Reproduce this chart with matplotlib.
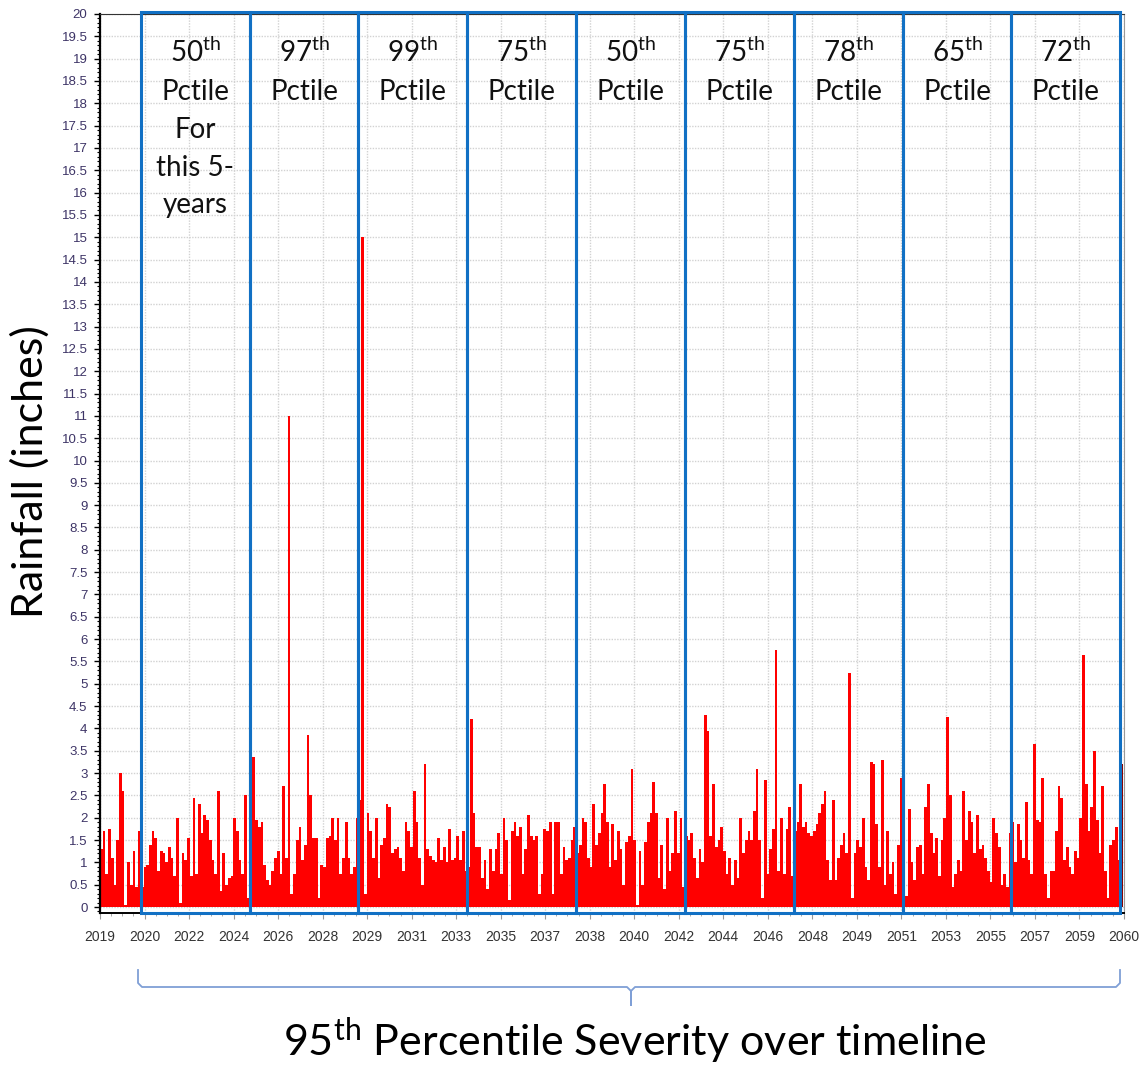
import numpy as np
import matplotlib
matplotlib.use("Agg")
import matplotlib.pyplot as plt
import matplotlib.transforms as mtransforms
from matplotlib import font_manager
from matplotlib.patches import Rectangle
from matplotlib.lines import Line2D
from matplotlib.ticker import MultipleLocator, AutoMinorLocator

# rainfall (inches), one bar per ~5 weeks
seg_2019 = [1.3, 1.7, 0.75, 1.75, 1.1, 0.5, 1.5, 3.0, 2.6, 0.05, 1.0, 0.5, 1.25, 0.45, 1.7]
period_1 = [0.45, 0.9, 0.93, 1.4, 1.7, 1.55, 0.8, 1.25, 1.2, 1.0, 1.35, 1.1, 0.7, 2.0, 0.1, 1.2, 1.05, 1.55, 0.7, 2.45,
            0.75, 2.3, 1.65, 2.05, 1.95, 1.5, 1.05, 0.75, 2.6, 0.35, 1.2, 0.5, 0.65, 0.7, 2.0, 1.7, 1.05, 0.75, 2.5, 0.2]
period_2 = [4.5, 3.35, 1.95, 1.8, 1.9, 0.93, 0.6, 0.5, 0.8, 1.1, 1.25, 0.75, 2.7, 1.1, 11.0, 0.3, 0.75, 1.5, 1.8, 1.05,
            1.4, 3.85, 2.5, 1.55, 1.55, 0.2, 0.93, 0.9, 1.55, 1.6, 2.0, 1.5, 2.0, 0.75, 1.1, 1.9, 1.1, 0.75, 0.9, 2.0]
period_3 = [2.4, 15.0, 0.3, 2.1, 1.7, 1.1, 2.0, 0.65, 1.4, 1.55, 2.3, 2.25, 1.2, 1.3, 1.35, 1.1, 0.8, 1.9, 1.7, 1.35,
            2.6, 1.9, 1.1, 0.5, 3.2, 1.3, 1.15, 1.05, 1.0, 1.55, 1.05, 1.35, 1.0, 1.75, 1.05, 1.1, 1.6, 1.05, 1.7, 0.8]
period_4 = [0.9, 4.2, 2.1, 1.35, 1.35, 0.65, 1.05, 0.4, 1.3, 0.8, 1.3, 1.65, 0.75, 2.0, 1.5, 0.15, 1.7, 1.9, 1.6, 1.8,
            0.75, 1.3, 2.05, 1.6, 1.5, 1.6, 0.3, 0.75, 1.75, 1.7, 1.9, 0.3, 1.9, 1.9, 0.75, 1.35, 1.05, 1.1, 1.5, 1.8]
period_5 = [1.2, 1.4, 2.0, 1.9, 1.1, 0.9, 2.3, 1.4, 1.65, 2.1, 2.75, 1.9, 0.9, 1.85, 1.05, 1.7, 1.3, 0.5, 1.45, 1.6,
            3.1, 1.5, 0.05, 1.25, 0.5, 1.45, 1.9, 2.1, 2.8, 2.1, 0.65, 1.4, 0.4, 2.0, 0.8, 1.2, 2.15, 1.2, 2.0, 0.45]
period_6 = [1.6, 1.5, 1.65, 1.1, 0.65, 1.3, 1.0, 4.3, 3.95, 1.6, 2.75, 1.35, 1.5, 1.8, 1.25, 0.75, 1.1, 0.5, 1.05, 0.65,
            2.0, 1.2, 1.5, 1.7, 1.5, 2.15, 3.1, 1.5, 0.2, 2.85, 0.75, 1.3, 1.75, 5.75, 0.8, 2.0, 0.75, 1.75, 2.25, 0.7]
period_7 = [1.7, 1.9, 2.75, 1.8, 1.9, 1.65, 1.6, 1.7, 1.85, 2.1, 2.3, 2.6, 1.05, 0.6, 2.4, 0.6, 1.1, 1.4, 1.65, 1.2,
            5.25, 0.2, 1.2, 1.5, 1.35, 2.0, 0.9, 0.6, 3.25, 3.2, 1.85, 0.9, 3.3, 0.5, 1.7, 0.75, 1.0, 0.3, 1.4, 2.9]
period_8 = [1.1, 0.25, 2.2, 1.0, 0.6, 1.35, 1.4, 0.75, 2.25, 2.75, 1.65, 1.2, 1.55, 0.7, 1.5, 2.0, 4.25, 2.5, 0.45, 0.75,
            1.05, 0.8, 2.6, 1.5, 2.15, 1.9, 1.2, 2.05, 1.3, 1.4, 1.1, 0.8, 0.55, 2.0, 1.65, 1.35, 0.5, 0.75, 0.45, 1.65]
period_9 = [1.9, 1.0, 1.85, 1.5, 1.1, 2.35, 1.05, 0.75, 3.65, 1.95, 1.9, 2.9, 0.75, 0.2, 0.8, 0.8, 1.7, 2.7, 2.45, 1.05,
            1.35, 0.9, 0.75, 1.25, 1.1, 2.0, 5.65, 2.75, 1.7, 2.25, 3.5, 1.95, 1.2, 2.7, 0.8, 0.2, 1.4, 1.5, 1.8, 1.05]
end_value = 3.2

segments = [seg_2019, period_1, period_2, period_3, period_4, period_5, period_6, period_7, period_8, period_9]

period_pctile = ["50", "97", "99", "75", "50", "75", "78", "65", "72"]
first_period_note = ["For", "this 5-", "years"]

tick_labels = ["2019", "2020", "2022", "2024", "2026", "2028", "2029", "2031", "2033", "2035", "2037", "2038",
               "2040", "2042", "2044", "2046", "2048", "2049", "2051", "2053", "2055", "2057", "2059", "2060"]

start_year, end_year = 2019.0, 2060.0

# fonts
names = {f.name for f in font_manager.fontManager.ttflist}
tick_font = "Liberation Sans" if "Liberation Sans" in names else "DejaVu Sans"
big_font = "Lato" if "Lato" in names else "DejaVu Sans"
plt.rcParams["mathtext.fontset"] = "custom"
plt.rcParams["mathtext.rm"] = big_font
plt.rcParams["mathtext.it"] = big_font

W, H = 1142, 1067
fig = plt.figure(figsize=(W / 100, H / 100), dpi=100)
ax = fig.add_axes([100 / W, 1 - 913 / H, 1024 / W, (913 - 14) / H])

rain = np.concatenate([np.asarray(s, dtype=float) for s in segments])
n = len(rain)
step = (end_year - start_year) / n
x = start_year + step * (np.arange(n) + 0.5)
edges = start_year + step * np.concatenate([[0], np.cumsum([len(s) for s in segments])])

ax.bar(x, rain, width=step, color="#ff0000", linewidth=0, zorder=2)
ax.bar(end_year + 0.1, end_value, width=step * 0.5, color="#8b0000", linewidth=0, zorder=2)

x_right = end_year + 0.15
ax.set_xlim(start_year, x_right)
ax.set_ylim(-0.134, 20)

ax.yaxis.set_major_locator(MultipleLocator(0.5))
ax.yaxis.set_minor_locator(MultipleLocator(0.1))
ax.set_yticklabels([f"{v:g}" for v in ax.get_yticks()])
ax.set_xticks(np.linspace(start_year, x_right, len(tick_labels)))
ax.set_xticklabels(tick_labels)
ax.xaxis.set_minor_locator(AutoMinorLocator(4))

ax.tick_params(axis="y", which="major", length=4, width=1, pad=5, labelsize=9.5, labelcolor="#3d3466")
ax.tick_params(axis="y", which="minor", length=2.5, width=0.8)
ax.tick_params(axis="x", which="major", length=4, width=0.8, pad=8, labelsize=10, labelcolor="#333333",
               color="#999999")
ax.tick_params(axis="x", which="minor", length=2, width=0.6, color="#999999")
for lab in ax.get_xticklabels() + ax.get_yticklabels():
    lab.set_family(tick_font)

ax.set_axisbelow(True)
ax.grid(True, which="major", color="#d2d2d2", linestyle=(0, (1, 1)), linewidth=1.0, zorder=0)

ax.spines["left"].set_linewidth(1.6)
ax.spines["left"].set_color("black")
ax.spines["bottom"].set_linewidth(1.4)
ax.spines["bottom"].set_color("black")
ax.spines["top"].set_color("#333333")
ax.spines["right"].set_color("#999999")

# blue period boxes
blue = "#1170c4"
for i in range(1, len(edges) - 1):
    ax.add_patch(Rectangle((edges[i], -0.134), edges[i + 1] - edges[i], 20.18, fill=False,
                           edgecolor=blue, linewidth=2.2, clip_on=False, zorder=5))

# period annotations
trans = mtransforms.blended_transform_factory(ax.transData, fig.transFigure)
baselines = [62, 100, 138, 176, 213]
for i, pct in enumerate(period_pctile):
    cx = (edges[i + 1] + edges[i + 2]) / 2
    lines = [pct + r"$^{\mathrm{th}}$", "Pctile"]
    if i == 0:
        lines += first_period_note
    for k, line in enumerate(lines):
        ax.text(cx, 1 - baselines[k] / H, line, transform=trans, ha="center", va="baseline",
                fontsize=20, family=big_font, color="#111111", zorder=6)

fig.text(30 / W, 1 - 472 / H, "Rainfall (inches)", rotation=90, ha="center", va="center",
         fontsize=31, family=big_font, color="black")

# brace under the timeline
bx = [138, 138, 142, 627, 631, 631, 631, 635, 1116, 1120, 1120]
by = [970, 983, 987, 987, 991, 1005, 991, 987, 987, 983, 970]
fig.add_artist(Line2D([v / W for v in bx], [1 - v / H for v in by], transform=fig.transFigure,
                      color="#7f9fd6", linewidth=1.3))

fig.text(635 / W, 1 - 1056 / H, r"95$^{\mathrm{th}}$ Percentile Severity over timeline", ha="center",
         va="baseline", fontsize=31, family=big_font, color="black")

fig.savefig("out.png", dpi=100)
